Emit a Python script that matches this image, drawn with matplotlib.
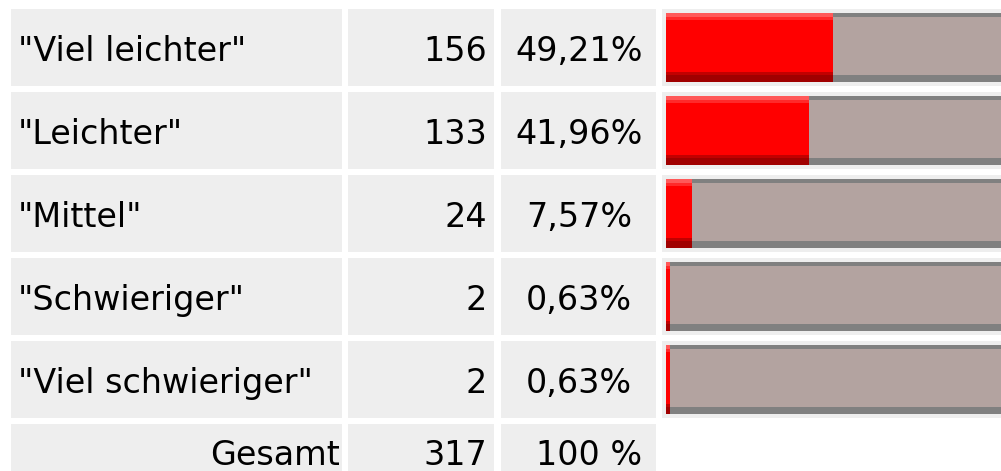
import matplotlib
matplotlib.use("Agg")
import matplotlib.pyplot as plt

# table data
answers = ['"Viel leichter"', '"Leichter"', '"Mittel"', '"Schwieriger"', '"Viel schwieriger"']
counts = [156, 133, 24, 2, 2]
percents = [49.21, 41.96, 7.57, 0.63, 0.63]
total_label = "Gesamt"
total_count = 317
total_percent = "100 %"

W, H = 1001, 471
fig = plt.figure(figsize=(W / 100, H / 100), dpi=100)
ax = fig.add_axes([0, 0, 1, 1])
ax.set_xlim(0, W)
ax.set_ylim(H, 0)
ax.axis('off')

cell_bg = '#eeeeee'
cols = [(11, 342), (348, 494), (501, 656), (662, 1010)]
row_top0, row_pitch, row_h = 9, 83, 77
font = dict(family='DejaVu Sans', size=24, color='black')


def cell(x0, x1, y0, h):
    ax.add_patch(plt.Rectangle((x0, y0), x1 - x0, h, color=cell_bg, lw=0, zorder=0))


# bar column: its own axes, 0..100 % across ~340 px
bar_left, bar_span = 666, 340
axb = fig.add_axes([bar_left / W, 0, bar_span / W, 1])
axb.set_xlim(0, 100)
axb.set_ylim(H, 0)
axb.axis('off')
axb.patch.set_alpha(0)

gray_bands = [(0, 4, '#808080'), (4, 58.5, '#b3a3a0'), (62.5, 6.5, '#808080')]
red_bands = [(0, 4, '#ff5959'), (4, 3, '#ff2a2a'), (7, 52, '#ff0000'),
             (59, 3.5, '#c20000'), (62.5, 6.5, '#a00000')]

for i, (name, n, p) in enumerate(zip(answers, counts, percents)):
    top = row_top0 + i * row_pitch
    for x0, x1 in cols:
        cell(x0, x1, top, row_h)
    base = top + 51.7
    ax.text(18, base, name, ha='left', va='baseline', **font)
    ax.text(487, base, str(n), ha='right', va='baseline', **font)
    ax.text(579, base, f"{p:.2f}".replace('.', ',') + '%', ha='center', va='baseline', **font)

    btop = top + 3.7
    for off, h, c in gray_bands:
        axb.barh(btop + off, 100, height=h, align='edge', color=c, lw=0)
    # tiny shares still show a sliver of red, as in the original
    for off, h, c in red_bands:
        axb.barh(btop + off, max(p, 1.1), height=h, align='edge', color=c, lw=0)

# total row
top = row_top0 + len(answers) * row_pitch
for x0, x1 in cols[:3]:
    cell(x0, x1, top, 70)
ax.text(340, 465, total_label, ha='right', va='baseline', **font)
ax.text(487, 465, str(total_count), ha='right', va='baseline', **font)
ax.text(589, 465, total_percent, ha='center', va='baseline', **font)

fig.savefig("out.png", dpi=100)
